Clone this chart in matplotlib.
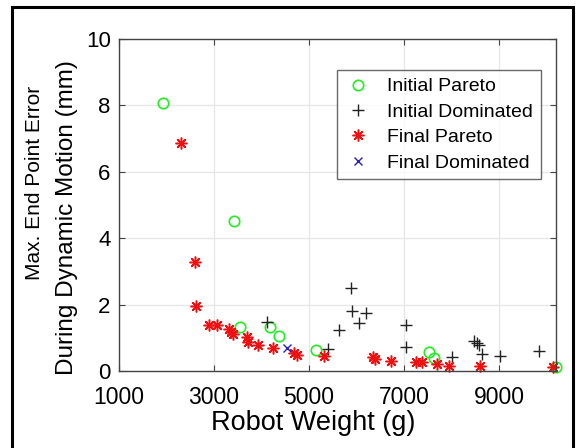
import matplotlib
matplotlib.use("Agg")
import matplotlib.pyplot as plt
from matplotlib.patches import Rectangle

plt.rcParams["font.family"] = ["Liberation Sans", "DejaVu Sans"]

# Initial Pareto front (green circles)
init_pareto_w = [1926, 3421, 3547, 4179, 4368, 5147, 7526, 7631, 10200]
init_pareto_e = [8.07, 4.52, 1.33, 1.33, 1.05, 0.63, 0.57, 0.39, 0.12]

# Initial dominated designs (black plus)
init_dom_w = [4116, 5400, 5631, 5884, 5905, 6052, 6200, 7042, 7042,
              8010, 8473, 8537, 8579, 8642, 9021, 9842]
init_dom_e = [1.48, 0.66, 1.23, 2.50, 1.81, 1.45, 1.75, 1.39, 0.72,
              0.42, 0.90, 0.84, 0.78, 0.51, 0.45, 0.60]

# Final Pareto front (red stars)
final_pareto_w = [2305, 2600, 2621, 2895, 3063, 3316, 3358, 3400, 3695, 3716,
                  3926, 4242, 4684, 4747, 5315, 6347, 6389, 6726, 7253, 7379,
                  7695, 7947, 8600, 10137]
final_pareto_e = [6.87, 3.28, 1.96, 1.39, 1.39, 1.26, 1.17, 1.11, 1.02, 0.87,
                  0.78, 0.69, 0.54, 0.48, 0.45, 0.42, 0.36, 0.30, 0.27, 0.27,
                  0.21, 0.15, 0.15, 0.12]

# Final dominated designs (blue x)
final_dom_w = [4537]
final_dom_e = [0.69]

W, H = 577, 448
fig = plt.figure(figsize=(W / 100, H / 100), dpi=100)
ax = fig.add_axes([119 / W, 1 - 371 / H, 437 / W, 332 / H])

asterisk = (8, 2, 0)
ax.plot(init_pareto_w, init_pareto_e, "o", mfc="none", mec="#22ee22",
        ms=7.5, mew=1.2, label="Initial Pareto", clip_on=False)
ax.plot(init_dom_w, init_dom_e, "+", color="#222222", ms=9, mew=1.0,
        label="Initial Dominated")
ax.plot(final_pareto_w, final_pareto_e, marker=asterisk, ls="none",
        color="#ee1111", ms=8.5, mew=1.1, label="Final Pareto", clip_on=False)
ax.plot(final_dom_w, final_dom_e, "x", color="#2222bb", ms=6, mew=1.0,
        label="Final Dominated")

ax.set_xlim(1000, 10200)
ax.set_ylim(0, 10)
ax.set_xticks([1000, 3000, 5000, 7000, 9000])
ax.set_yticks([0, 2, 4, 6, 8, 10])
ax.grid(True, color="#e6e6e6", lw=0.9)
ax.set_axisbelow(True)
ax.tick_params(direction="in", length=4, color="#444444", top=True, right=True)
ax.tick_params(axis="x", labelsize=16.5, pad=11)
ax.tick_params(axis="y", labelsize=16, pad=6)
for s in ax.spines.values():
    s.set_color("#444444")
    s.set_linewidth(1.0)

fig.text(313 / W, 1 - 423 / H, "Robot Weight (g)", fontsize=19.5,
         ha="center", va="center")
fig.text(35 / W, 1 - 183 / H, "Max. End Point Error", fontsize=15,
         rotation=90, ha="center", va="center")
fig.text(67 / W, 1 - 218 / H, "During Dynamic Motion (mm)", fontsize=17.5,
         rotation=90, ha="center", va="center")

leg = ax.legend(loc="upper right", bbox_to_anchor=((541 - 119) / 437, (371 - 70) / 332),
                fontsize=14, frameon=True, fancybox=False, edgecolor="#444444",
                handletextpad=0.8, borderpad=0.4, labelspacing=0.4,
                handlelength=1.4, borderaxespad=0)
leg.get_frame().set_linewidth(1.0)

fig.patches.append(Rectangle((12 / W, -0.1), 561 / W, 1.1 - 7 / H,
                             transform=fig.transFigure, fill=False,
                             ec="black", lw=2.2))

fig.savefig("out.png", dpi=100)
